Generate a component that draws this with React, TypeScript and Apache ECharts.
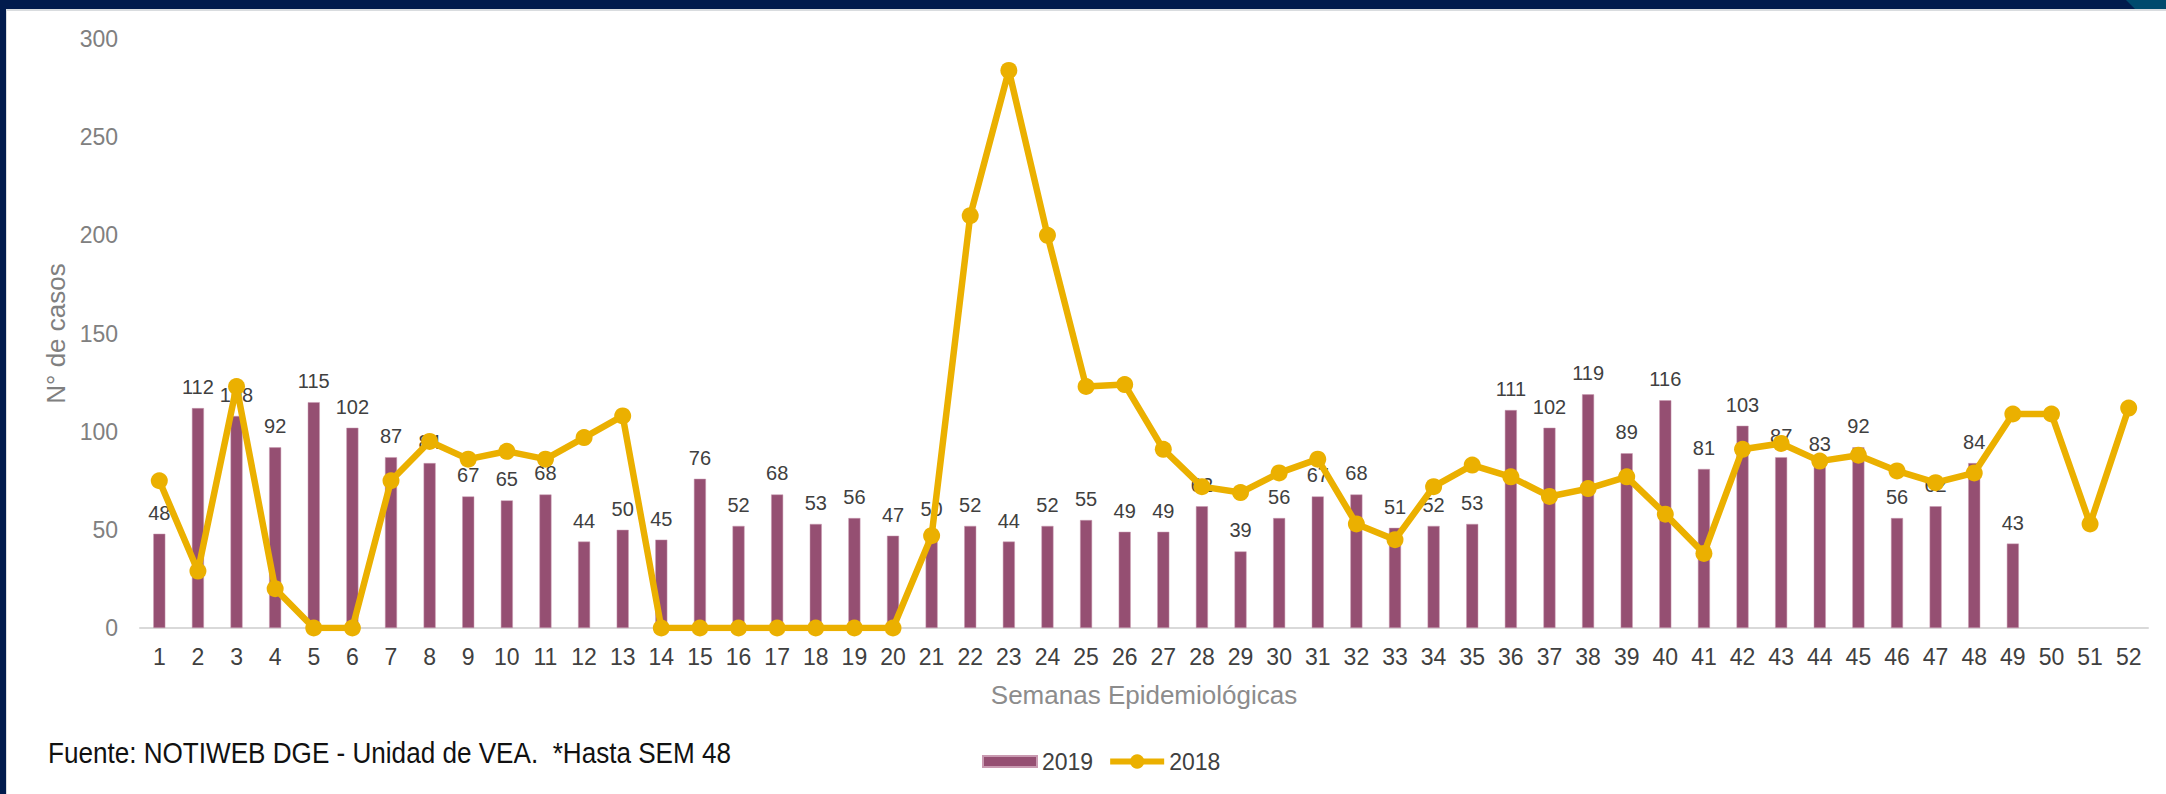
import React, { useEffect, useRef } from "react";
import * as echarts from "echarts";

const weeks = [
  "1", "2", "3", "4", "5", "6", "7", "8", "9", "10", "11", "12", "13",
  "14", "15", "16", "17", "18", "19", "20", "21", "22", "23", "24", "25", "26",
  "27", "28", "29", "30", "31", "32", "33", "34", "35", "36", "37", "38", "39",
  "40", "41", "42", "43", "44", "45", "46", "47", "48", "49", "50", "51", "52",
];

const cases2019 = [
  48, 112, 108, 92, 115, 102, 87, 84, 67, 65, 68, 44, 50,
  45, 76, 52, 68, 53, 56, 47, 50, 52, 44, 52, 55, 49,
  49, 62, 39, 56, 67, 68, 51, 52, 53, 111, 102, 119, 89,
  116, 81, 103, 87, 83, 92, 56, 62, 84, 43, null, null, null,
];

const cases2018 = [
  75, 29, 123, 20, 0, 0, 75, 95, 86, 90, 86, 97, 108,
  0, 0, 0, 0, 0, 0, 0, 47, 210, 284, 200, 123, 124,
  91, 72, 69, 79, 86, 53, 45, 72, 83, 77, 67, 71, 77,
  58, 38, 91, 94, 85, 88, 80, 74, 79, 109, 109, 53, 112,
];

const yMin = 0;
const yMax = 300;
const yStep = 50;

const seriesNames = ["2019", "2018"];
const xTitle = "Semanas Epidemiológicas";
const yTitle = "N° de casos";
const footnote = "Fuente: NOTIWEB DGE - Unidad de VEA.  *Hasta SEM 48";

export default function App() {
  const ref = useRef<HTMLDivElement>(null);

  useEffect(() => {
    if (!ref.current) return;
    const chart = echarts.init(ref.current, null, { renderer: "svg" });
    const font = "'Liberation Sans', Arial, sans-serif";
    chart.setOption({
      animation: false,
      backgroundColor: "#ffffff",
      textStyle: { fontFamily: font },
      grid: { left: 140, right: 18, top: 39, bottom: 166 },
      xAxis: {
        type: "category",
        data: weeks,
        boundaryGap: true,
        name: xTitle,
        nameLocation: "middle",
        nameGap: 54,
        nameTextStyle: { fontSize: 26, color: "#8c8c8c", fontFamily: font },
        axisLine: { lineStyle: { color: "#d9d9d9", width: 2 } },
        axisTick: { show: false },
        axisLabel: { interval: 0, fontSize: 23, color: "#404040", margin: 17, fontFamily: font },
      },
      yAxis: {
        type: "value",
        min: yMin,
        max: yMax,
        interval: yStep,
        name: yTitle,
        nameLocation: "middle",
        nameRotate: 90,
        nameGap: 68,
        nameTextStyle: { fontSize: 26, color: "#808080", fontFamily: font },
        axisLine: { show: false },
        axisTick: { show: false },
        splitLine: { show: false },
        axisLabel: { fontSize: 23, color: "#808080", margin: 22, fontFamily: font },
      },
      legend: {
        left: 977,
        top: 745,
        itemWidth: 54,
        itemHeight: 18,
        itemGap: 14,
        textStyle: { fontSize: 23, color: "#404040", fontFamily: font },
        lineStyle: { width: 6 },
        data: [
          { name: seriesNames[0], icon: "path://M0 0H54V11H0Z" },
          { name: seriesNames[1] },
        ],
      },
      series: [
        {
          name: seriesNames[0],
          type: "bar",
          data: cases2019,
          barWidth: 12,
          itemStyle: { color: "#954F72", borderColor: "#c99ab1", borderWidth: 0.5 },
          label: {
            show: true,
            position: "top",
            distance: 11,
            fontSize: 20,
            color: "#404040",
            fontFamily: font,
          },
          z: 2,
        },
        {
          name: seriesNames[1],
          type: "line",
          data: cases2018,
          symbol: "circle",
          symbolSize: 17,
          lineStyle: { color: "#EBB000", width: 6.5 },
          itemStyle: { color: "#EBB000" },
          z: 3,
        },
      ],
      graphic: [
        { type: "rect", shape: { x: 0, y: 0, width: 2166, height: 9 }, style: { fill: "#011b4d" }, z: 100 },
        { type: "polygon", shape: { points: [[2126, 0], [2166, 0], [2166, 9], [2135, 9]] }, style: { fill: "#004a6d" }, z: 101 },
        { type: "rect", shape: { x: 0, y: 9, width: 2166, height: 2 }, style: { fill: "#d9dcdf" }, z: 100 },
        { type: "rect", shape: { x: 0, y: 0, width: 6, height: 794 }, style: { fill: "#011b4d" }, z: 102 },
        { type: "rect", shape: { x: 6, y: 9, width: 1, height: 785 }, style: { fill: "#d9dcdf" }, z: 100 },
        {
          type: "text",
          x: 48,
          y: 738,
          scaleX: 0.87,
          style: {
            text: footnote,
            fontSize: 30,
            fontFamily: font,
            fill: "#111111",
            textVerticalAlign: "top",
          },
          z: 100,
        },
      ],
    });
    return () => chart.dispose();
  }, []);

  return (
    <div
      ref={ref}
      style={{ position: "fixed", left: 0, top: 0, width: 2166, height: 794, background: "#ffffff" }}
    />
  );
}
